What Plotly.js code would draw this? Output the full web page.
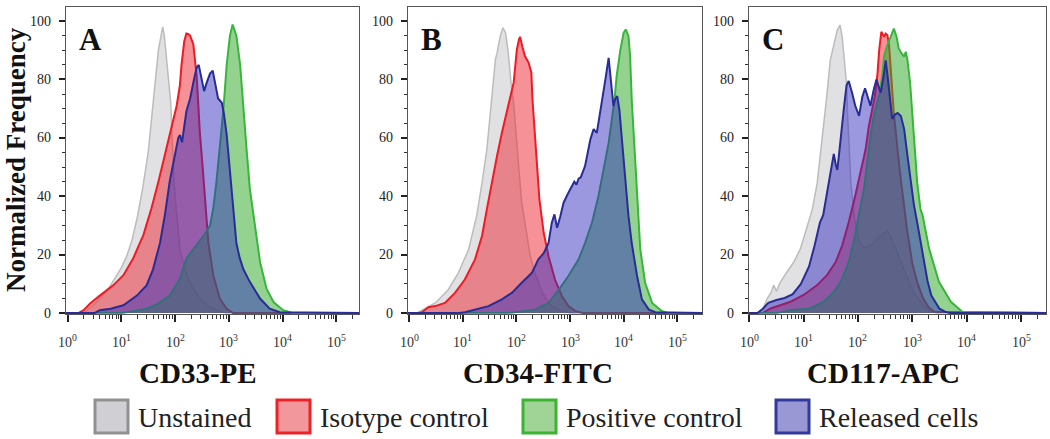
<!DOCTYPE html>
<html>
<head>
<meta charset="utf-8">
<script src="https://cdn.plot.ly/plotly-3.0.1.min.js"></script>
<style>
  html, body { margin: 0; padding: 0; background: #ffffff; }
  #chart { width: 1050px; height: 439px; }
</style>
</head>
<body>
<div id="chart"></div>
<script>
// ---------- DATA (log10 fluorescence intensity, normalized frequency) ----------
// Panel A : CD33-PE
const A_unst_log = [-0.1, 0.3, 0.4, 0.5, 0.6, 0.7, 0.8, 0.9, 1.0, 1.1, 1.2, 1.3, 1.4, 1.5, 1.56, 1.63, 1.69, 1.74, 1.77, 1.8, 1.84, 1.88, 1.92, 1.95, 1.98, 2.02, 2.09, 2.18, 2.28, 2.4, 2.52, 2.65, 2.8, 2.95, 5.5];
const A_unst_val = [0, 0, 1.5, 3, 5, 7, 9.5, 12.5, 15.5, 19.5, 25, 33, 43, 55, 67, 79, 90, 96, 98, 95, 88, 80, 72, 58, 45, 36, 22, 15, 10.5, 6.5, 4, 2, 0.8, 0, 0];
const A_iso_log = [-0.1, 0.2, 0.3, 0.42, 0.6, 0.85, 1.04, 1.22, 1.41, 1.56, 1.69, 1.81, 1.94, 2.03, 2.09, 2.12, 2.17, 2.21, 2.25, 2.28, 2.34, 2.37, 2.40, 2.43, 2.46, 2.51, 2.56, 2.62, 2.71, 2.83, 2.96, 3.08, 5.5];
const A_iso_val = [0, 0, 1, 3.3, 6, 9.5, 13, 18.7, 26.7, 35.8, 45, 54, 64, 71, 78, 85, 93, 95.7, 95.5, 95, 92, 87, 81.5, 72, 62, 50.6, 38, 24, 13, 5, 1.5, 0, 0];
const A_pos_log = [-0.1, 1.0, 1.47, 1.66, 1.9, 2.09, 2.21, 2.34, 2.45, 2.55, 2.65, 2.71, 2.77, 2.83, 2.9, 2.96, 3.02, 3.07, 3.14, 3.21, 3.27, 3.33, 3.39, 3.49, 3.58, 3.7, 3.83, 4.01, 4.2, 5.5];
const A_pos_val = [0, 0, 1.5, 3, 6, 11.8, 18.7, 22, 24.5, 27, 30, 35.8, 45, 56, 70, 85, 95, 98.8, 95, 85, 72, 56, 42.6, 29, 17.5, 8.4, 3.8, 1, 0, 0];
const A_rel_log = [-0.1, 0.5, 0.6, 0.8, 1.04, 1.29, 1.47, 1.59, 1.72, 1.81, 1.9, 2.0, 2.06, 2.09, 2.13, 2.21, 2.28, 2.34, 2.4, 2.44, 2.49, 2.54, 2.59, 2.65, 2.7, 2.74, 2.8, 2.87, 2.91, 2.96, 3.02, 3.08, 3.14, 3.2, 3.27, 3.39, 3.58, 3.76, 3.95, 5.5];
const A_rel_val = [0, 0, 1, 1.5, 2.7, 6, 9.5, 15, 24, 33.5, 45, 54, 60, 61, 58.5, 69, 73.5, 79, 84, 85, 80, 76, 79, 82, 83, 79, 73.5, 72, 68, 61, 48, 35, 24, 19, 15, 10.7, 5, 1.5, 0.3, 0];

// Panel B : CD34-FITC
const B_unst_log = [-0.1, 0.15, 0.24, 0.49, 0.73, 0.92, 1.11, 1.26, 1.36, 1.45, 1.51, 1.57, 1.61, 1.64, 1.70, 1.75, 1.80, 1.85, 1.90, 1.95, 1.98, 2.04, 2.1, 2.18, 2.26, 2.34, 2.41, 2.5, 2.6, 2.72, 2.85, 3.0, 5.5];
const B_unst_val = [0, 0, 1, 3.5, 8, 13.8, 21.8, 33.2, 44.6, 56, 67.5, 78.9, 86.9, 89, 94.8, 97.7, 96, 89, 79, 72, 64, 51, 37.8, 28, 19.5, 14, 10.4, 6.5, 3.5, 1.8, 0.7, 0, 0];
const B_iso_log = [-0.1, 0.15, 0.24, 0.36, 0.49, 0.67, 0.86, 1.04, 1.23, 1.36, 1.45, 1.54, 1.64, 1.73, 1.82, 1.88, 1.95, 1.98, 2.01, 2.05, 2.07, 2.11, 2.16, 2.23, 2.28, 2.3, 2.34, 2.38, 2.43, 2.51, 2.6, 2.72, 2.85, 2.97, 3.1, 3.25, 5.5];
const B_iso_val = [0, 0, 0.3, 2, 2.4, 3.5, 7, 11.5, 18.4, 26.4, 35.5, 44.6, 53.8, 61.7, 68.6, 73.2, 78.9, 84.6, 90.3, 93.7, 94.6, 91.4, 88, 85.7, 82.3, 73.2, 61.7, 50.3, 38.9, 27.5, 19.5, 11.5, 5.8, 2.4, 0.7, 0, 0];
const B_pos_log = [-0.1, 1.8, 1.98, 2.35, 2.6, 2.79, 2.97, 3.16, 3.28, 3.41, 3.53, 3.63, 3.72, 3.78, 3.83, 3.87, 3.94, 4.0, 4.04, 4.09, 4.12, 4.15, 4.2, 4.25, 4.31, 4.4, 4.53, 4.71, 4.84, 5.5];
const B_pos_val = [0, 0, 0.3, 1.2, 3.5, 8, 12.7, 18.4, 24, 31, 40, 49, 58.3, 66.3, 73.2, 81.2, 90.3, 96, 97.1, 94.8, 88, 73.2, 56, 39, 21.8, 10.4, 3.5, 0.7, 0, 0];
const B_rel_log = [-0.1, 0.9, 1.04, 1.48, 1.73, 1.92, 2.1, 2.29, 2.41, 2.51, 2.6, 2.66, 2.71, 2.76, 2.82, 2.88, 2.97, 3.03, 3.08, 3.12, 3.16, 3.2, 3.28, 3.38, 3.44, 3.5, 3.56, 3.63, 3.67, 3.72, 3.77, 3.81, 3.84, 3.88, 3.92, 3.97, 4.03, 4.09, 4.15, 4.25, 4.34, 4.47, 4.59, 5.5];
const B_rel_val = [0, 0, 0.3, 2.4, 4.7, 7, 10.4, 13.8, 18.4, 20.5, 24, 30.9, 33.8, 29.2, 33.2, 37.8, 41.2, 43.5, 45, 44, 46, 46.5, 50.3, 59.5, 63, 61.7, 68.6, 75.4, 81.2, 87.4, 78.9, 70.9, 73.2, 74.3, 69.7, 58.3, 44.6, 33.2, 24, 12.7, 4.7, 1.2, 0.3, 0];

// Panel C : CD117-APC
const C_unst_log = [-0.1, 0.15, 0.25, 0.33, 0.4, 0.45, 0.5, 0.57, 0.69, 0.82, 0.94, 1.06, 1.16, 1.25, 1.31, 1.37, 1.43, 1.49, 1.56, 1.62, 1.67, 1.71, 1.75, 1.79, 1.81, 1.84, 1.87, 1.93, 2.02, 2.11, 2.23, 2.36, 2.48, 2.54, 2.6, 2.69, 2.79, 2.91, 3.03, 3.15, 3.25, 3.35, 3.45, 5.5];
const C_unst_val = [0, 0, 1.5, 5, 7, 9.5, 7.5, 10.5, 14, 17.5, 22, 29, 35.5, 44.5, 54, 64, 75, 86.5, 92.5, 97, 98.6, 94.5, 86.5, 78.5, 67.5, 56, 44.5, 33, 24.5, 22.5, 23, 25.5, 27.5, 28.3, 26.5, 22, 17.5, 12, 7, 4, 1.8, 0.5, 0, 0];
const C_iso_log = [-0.1, 0.25, 0.39, 0.76, 1.0, 1.25, 1.43, 1.59, 1.71, 1.83, 1.95, 2.05, 2.14, 2.2, 2.26, 2.31, 2.36, 2.39, 2.43, 2.48, 2.51, 2.54, 2.57, 2.6, 2.63, 2.66, 2.7, 2.75, 2.8, 2.85, 2.9, 2.95, 3.0, 3.1, 3.2, 3.3, 3.4, 5.5];
const C_iso_val = [0, 0, 1.6, 3.9, 6.2, 9.6, 13, 17.5, 23.2, 31.1, 40.2, 48.1, 56, 64, 69.7, 74.2, 82.1, 90, 96.3, 94.6, 95.7, 95.2, 92.3, 85.5, 76.5, 68.5, 60, 52, 44, 36, 29, 23, 17, 10, 5, 2, 0.5, 0];
const C_pos_log = [-0.1, 0.5, 0.76, 1.12, 1.37, 1.56, 1.71, 1.83, 1.92, 2.02, 2.11, 2.17, 2.23, 2.29, 2.36, 2.4, 2.45, 2.48, 2.53, 2.57, 2.61, 2.66, 2.71, 2.75, 2.8, 2.85, 2.88, 2.91, 2.96, 3.0, 3.04, 3.09, 3.15, 3.19, 3.31, 3.49, 3.71, 3.92, 5.5];
const C_pos_val = [0, 0, 1, 1.6, 3.9, 7.3, 11.8, 17.5, 24.3, 33.4, 42.4, 51.5, 60.6, 67.4, 72, 75.3, 82, 87.8, 91.2, 93, 94.6, 97.4, 94.6, 90.6, 89, 87.8, 89.5, 86.7, 78.7, 67.4, 56, 44.7, 35.6, 33.4, 22, 10.7, 3.9, 0.5, 0];
const C_rel_log = [-0.1, 0.15, 0.25, 0.35, 0.5, 0.65, 0.8, 0.95, 1.1, 1.2, 1.3, 1.36, 1.42, 1.5, 1.555, 1.59, 1.62, 1.65, 1.69, 1.74, 1.79, 1.83, 1.89, 1.95, 2.02, 2.08, 2.13, 2.18, 2.23, 2.29, 2.34, 2.39, 2.42, 2.47, 2.51, 2.54, 2.59, 2.63, 2.68, 2.73, 2.79, 2.85, 2.91, 2.97, 3.03, 3.1, 3.16, 3.22, 3.28, 3.35, 3.42, 3.5, 3.6, 3.7, 5.5];
const C_rel_val = [0, 0, 1.5, 3.5, 4.5, 5.2, 6.5, 10, 16, 23, 31, 33.5, 40, 48, 54.5, 51, 49, 54, 62, 70, 78, 79.5, 75.5, 71, 67.5, 74, 77, 73.5, 71, 76.5, 80, 77, 75.5, 81, 86.5, 82, 74, 66.5, 68, 68.5, 67.5, 63, 54, 45, 37, 30, 24, 18, 11, 6, 4, 1.5, 0.5, 0, 0];

// Labels
const seriesNames = ["Unstained", "Isotype control", "Positive control", "Released cells"];
const panelLetters = ["A", "B", "C"];
const markerTitles = ["CD33-PE", "CD34-FITC", "CD117-APC"];
const yTickVals = [0, 20, 40, 60, 80, 100];
const xTickVals = [1, 10, 100, 1000, 10000, 100000];
const xTickText = ["10<sup>0</sup>", "10<sup>1</sup>", "10<sup>2</sup>", "10<sup>3</sup>", "10<sup>4</sup>", "10<sup>5</sup>"];
const yTitle = "Normalized Frequency";

// ---------- STYLE ----------
const W = 1050, H = 439;
const SERIF = "Liberation Serif, Times New Roman, serif";
const styles = [
  {line: "rgb(188,188,188)", width: 1.5, fill: "rgba(200,200,204,0.55)", box: "rgb(208,208,212)", border: "rgb(145,145,145)"},
  {line: "rgb(237,28,36)",   width: 2,   fill: "rgba(235,45,55,0.52)",    box: "rgb(242,152,156)", border: "rgb(235,35,40)"},
  {line: "rgb(57,181,60)",   width: 2,   fill: "rgba(50,170,40,0.52)",    box: "rgb(160,212,150)", border: "rgb(60,180,50)"},
  {line: "rgb(40,45,150)",   width: 2,   fill: "rgba(45,40,190,0.48)",    box: "rgb(154,152,212)", border: "rgb(50,58,158)"}
];

const panels = [
  {series: [[A_unst_log, A_unst_val], [A_iso_log, A_iso_val], [A_pos_log, A_pos_val], [A_rel_log, A_rel_val]], px: [66, 359], range: [-0.028, 5.42]},
  {series: [[B_unst_log, B_unst_val], [B_iso_log, B_iso_val], [B_pos_log, B_pos_val], [B_rel_log, B_rel_val]], px: [408, 702], range: [-0.019, 5.46]},
  {series: [[C_unst_log, C_unst_val], [C_iso_log, C_iso_val], [C_pos_log, C_pos_val], [C_rel_log, C_rel_val]], px: [749, 1046], range: [-0.005, 5.46]}
];

const yDomain = [1 - 314 / H, 1 - 7 / H];
const minorX = [];
for (let d = 0; d < 6; d++) for (let m = 2; m <= 9; m++) minorX.push(m * Math.pow(10, d));

const data = [];
const layout = {
  width: W, height: H,
  margin: {l: 0, r: 0, t: 0, b: 0},
  paper_bgcolor: "#ffffff", plot_bgcolor: "#ffffff",
  showlegend: false,
  annotations: [], shapes: []
};

panels.forEach((p, i) => {
  const sfx = i === 0 ? "" : String(i + 1);
  p.series.forEach((s, k) => {
    const st = styles[k];
    data.push({
      type: "scatter", mode: "lines",
      x: s[0].map(v => Math.pow(10, v)), y: s[1],
      fill: "tozeroy", fillcolor: st.fill,
      line: {color: st.line, width: st.width},
      name: seriesNames[k],
      xaxis: "x" + sfx, yaxis: "y" + sfx,
      hoverinfo: "skip", showlegend: false
    });
  });
  layout["xaxis" + sfx] = {
    type: "log", domain: [p.px[0] / W, p.px[1] / W], range: p.range, anchor: "y" + sfx,
    tickmode: "array", tickvals: xTickVals, showticklabels: false,
    ticks: "outside", ticklen: 7, tickwidth: 1.5, tickcolor: "#222",
    minor: {tickmode: "array", tickvals: minorX, ticks: "outside", ticklen: 4, tickwidth: 1, tickcolor: "#333"},
    showline: true, mirror: true, linecolor: "#555", linewidth: 1.2,
    showgrid: false, zeroline: false, fixedrange: true
  };
  layout["yaxis" + sfx] = {
    domain: yDomain, range: [-0.3, 104.8], anchor: "x" + sfx,
    tickmode: "array", tickvals: yTickVals, showticklabels: false,
    ticks: "outside", ticklen: 6, tickwidth: 1.5, tickcolor: "#222",
    minor: {dtick: 5, ticks: "outside", ticklen: 3, tickwidth: 1, tickcolor: "#333"},
    showline: true, mirror: true, linecolor: "#555", linewidth: 1.2,
    showgrid: false, zeroline: false, fixedrange: true
  };
  // tick labels placed through the axes
  xTickVals.forEach((v, j) => {
    layout.annotations.push({
      xref: "x" + sfx, yref: "paper", x: Math.log10(v), y: 1 - 341 / H,
      xanchor: "center", yanchor: "middle", showarrow: false,
      text: xTickText[j], font: {family: SERIF, size: 14, color: "#333"}
    });
  });
  yTickVals.forEach(v => {
    layout.annotations.push({
      xref: "paper", yref: "y" + sfx, x: (p.px[0] - 13) / W, y: v,
      xanchor: "right", yanchor: "middle", showarrow: false,
      text: String(v), font: {family: SERIF, size: 14, color: "#222"}
    });
  });
  // panel letter
  layout.annotations.push({
    xref: "paper", yref: "paper", x: (p.px[0] + 11) / W, y: 1 - 20 / H,
    xanchor: "left", yanchor: "top", showarrow: false, text: panelLetters[i],
    font: {family: SERIF, size: 31, color: "#111", weight: "bold"}
  });
});

// x titles
const xTitleCenters = [198, 538, 883];
markerTitles.forEach((t, i) => {
  layout.annotations.push({
    xref: "paper", yref: "paper", x: xTitleCenters[i] / W, y: 1 - 373 / H,
    xanchor: "center", yanchor: "middle", showarrow: false, text: t,
    font: {family: SERIF, size: 29, color: "#111", weight: "bold"}
  });
});

// y title
layout.annotations.push({
  xref: "paper", yref: "paper", x: 16 / W, y: 1 - 160 / H,
  xanchor: "center", yanchor: "middle", showarrow: false, textangle: -90, text: yTitle,
  font: {family: SERIF, size: 27, color: "#111", weight: "bold"}
});

// legend (drawn as boxes + text)
const legBoxX = [95, 277, 523, 776];
seriesNames.forEach((n, k) => {
  const st = styles[k];
  const x0 = legBoxX[k], x1 = x0 + 33, y0 = 400, y1 = 433;
  layout.shapes.push({
    type: "rect", xref: "paper", yref: "paper",
    x0: x0 / W, x1: x1 / W, y0: 1 - y1 / H, y1: 1 - y0 / H,
    fillcolor: st.box, line: {color: st.border, width: 3}
  });
  layout.annotations.push({
    xref: "paper", yref: "paper", x: (x1 + 8) / W, y: 1 - 417 / H,
    xanchor: "left", yanchor: "middle", showarrow: false, text: n,
    font: {family: SERIF, size: 28, color: "#222"}
  });
});

Plotly.newPlot("chart", data, layout, {displayModeBar: false});
</script>
</body>
</html>
